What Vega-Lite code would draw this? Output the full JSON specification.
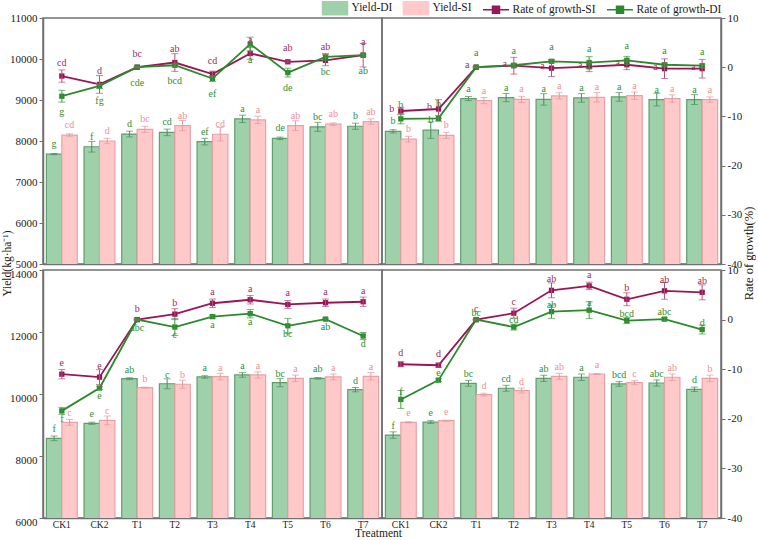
{
  "$schema": "https://vega.github.io/schema/vega-lite/v6.json",
  "background": "white",
  "padding": {"left": 0, "top": 0, "right": 0, "bottom": 0},
  "datasets": {
    "bars": [
      {"p":"A","t":"CK1","s":"Yield-DI","v":7680,"e":15,"g":"g"},
      {"p":"A","t":"CK2","s":"Yield-DI","v":7860,"e":130,"g":"f"},
      {"p":"A","t":"T1","s":"Yield-DI","v":8170,"e":70,"g":"d"},
      {"p":"A","t":"T2","s":"Yield-DI","v":8210,"e":80,"g":"cd"},
      {"p":"A","t":"T3","s":"Yield-DI","v":7985,"e":80,"g":"ef"},
      {"p":"A","t":"T4","s":"Yield-DI","v":8540,"e":90,"g":"a"},
      {"p":"A","t":"T5","s":"Yield-DI","v":8065,"e":30,"g":"de"},
      {"p":"A","t":"T6","s":"Yield-DI","v":8345,"e":110,"g":"bc"},
      {"p":"A","t":"T7","s":"Yield-DI","v":8360,"e":75,"g":"b"},
      {"p":"A","t":"CK1","s":"Yield-SI","v":8145,"e":30,"g":"cd"},
      {"p":"A","t":"CK2","s":"Yield-SI","v":8000,"e":65,"g":"d"},
      {"p":"A","t":"T1","s":"Yield-SI","v":8285,"e":75,"g":"bc"},
      {"p":"A","t":"T2","s":"Yield-SI","v":8375,"e":125,"g":"ab"},
      {"p":"A","t":"T3","s":"Yield-SI","v":8165,"e":165,"g":"cd"},
      {"p":"A","t":"T4","s":"Yield-SI","v":8515,"e":90,"g":"a"},
      {"p":"A","t":"T5","s":"Yield-SI","v":8375,"e":120,"g":"ab"},
      {"p":"A","t":"T6","s":"Yield-SI","v":8410,"e":30,"g":"ab"},
      {"p":"A","t":"T7","s":"Yield-SI","v":8475,"e":65,"g":"ab"},
      {"p":"B","t":"CK1","s":"Yield-DI","v":8235,"e":40,"g":"b"},
      {"p":"B","t":"CK2","s":"Yield-DI","v":8265,"e":200,"g":"b"},
      {"p":"B","t":"T1","s":"Yield-DI","v":9035,"e":50,"g":"a"},
      {"p":"B","t":"T2","s":"Yield-DI","v":9060,"e":100,"g":"a"},
      {"p":"B","t":"T3","s":"Yield-DI","v":9015,"e":140,"g":"a"},
      {"p":"B","t":"T4","s":"Yield-DI","v":9050,"e":105,"g":"a"},
      {"p":"B","t":"T5","s":"Yield-DI","v":9075,"e":105,"g":"a"},
      {"p":"B","t":"T6","s":"Yield-DI","v":9010,"e":155,"g":"a"},
      {"p":"B","t":"T7","s":"Yield-DI","v":9010,"e":120,"g":"a"},
      {"p":"B","t":"CK1","s":"Yield-SI","v":8045,"e":70,"g":"b"},
      {"p":"B","t":"CK2","s":"Yield-SI","v":8135,"e":75,"g":"b"},
      {"p":"B","t":"T1","s":"Yield-SI","v":8985,"e":75,"g":"a"},
      {"p":"B","t":"T2","s":"Yield-SI","v":9015,"e":75,"g":"a"},
      {"p":"B","t":"T3","s":"Yield-SI","v":9100,"e":75,"g":"a"},
      {"p":"B","t":"T4","s":"Yield-SI","v":9065,"e":115,"g":"a"},
      {"p":"B","t":"T5","s":"Yield-SI","v":9105,"e":90,"g":"a"},
      {"p":"B","t":"T6","s":"Yield-SI","v":9035,"e":90,"g":"a"},
      {"p":"B","t":"T7","s":"Yield-SI","v":9010,"e":65,"g":"a"},
      {"p":"C","t":"CK1","s":"Yield-DI","v":8570,"e":75,"g":"f"},
      {"p":"C","t":"CK2","s":"Yield-DI","v":9055,"e":35,"g":"e"},
      {"p":"C","t":"T1","s":"Yield-DI","v":10495,"e":30,"g":"ab"},
      {"p":"C","t":"T2","s":"Yield-DI","v":10330,"e":160,"g":"c"},
      {"p":"C","t":"T3","s":"Yield-DI","v":10550,"e":40,"g":"a"},
      {"p":"C","t":"T4","s":"Yield-DI","v":10615,"e":75,"g":"a"},
      {"p":"C","t":"T5","s":"Yield-DI","v":10365,"e":130,"g":"bc"},
      {"p":"C","t":"T6","s":"Yield-DI","v":10505,"e":25,"g":"ab"},
      {"p":"C","t":"T7","s":"Yield-DI","v":10140,"e":70,"g":"d"},
      {"p":"C","t":"CK1","s":"Yield-SI","v":9085,"e":95,"g":"c"},
      {"p":"C","t":"CK2","s":"Yield-SI","v":9150,"e":140,"g":"c"},
      {"p":"C","t":"T1","s":"Yield-SI","v":10205,"e":15,"g":"b"},
      {"p":"C","t":"T2","s":"Yield-SI","v":10315,"e":130,"g":"b"},
      {"p":"C","t":"T3","s":"Yield-SI","v":10560,"e":105,"g":"a"},
      {"p":"C","t":"T4","s":"Yield-SI","v":10615,"e":100,"g":"a"},
      {"p":"C","t":"T5","s":"Yield-SI","v":10505,"e":105,"g":"a"},
      {"p":"C","t":"T6","s":"Yield-SI","v":10550,"e":95,"g":"a"},
      {"p":"C","t":"T7","s":"Yield-SI","v":10570,"e":120,"g":"a"},
      {"p":"D","t":"CK1","s":"Yield-DI","v":8675,"e":105,"g":"f"},
      {"p":"D","t":"CK2","s":"Yield-DI","v":9095,"e":45,"g":"e"},
      {"p":"D","t":"T1","s":"Yield-DI","v":10345,"e":95,"g":"bc"},
      {"p":"D","t":"T2","s":"Yield-DI","v":10185,"e":95,"g":"cd"},
      {"p":"D","t":"T3","s":"Yield-DI","v":10505,"e":100,"g":"ab"},
      {"p":"D","t":"T4","s":"Yield-DI","v":10540,"e":105,"g":"a"},
      {"p":"D","t":"T5","s":"Yield-DI","v":10325,"e":75,"g":"bcd"},
      {"p":"D","t":"T6","s":"Yield-DI","v":10355,"e":100,"g":"abc"},
      {"p":"D","t":"T7","s":"Yield-DI","v":10150,"e":70,"g":"d"},
      {"p":"D","t":"CK1","s":"Yield-SI","v":9085,"e":20,"g":"e"},
      {"p":"D","t":"CK2","s":"Yield-SI","v":9140,"e":15,"g":"e"},
      {"p":"D","t":"T1","s":"Yield-SI","v":9980,"e":45,"g":"d"},
      {"p":"D","t":"T2","s":"Yield-SI","v":10110,"e":80,"g":"d"},
      {"p":"D","t":"T3","s":"Yield-SI","v":10570,"e":95,"g":"ab"},
      {"p":"D","t":"T4","s":"Yield-SI","v":10645,"e":15,"g":"a"},
      {"p":"D","t":"T5","s":"Yield-SI","v":10365,"e":65,"g":"c"},
      {"p":"D","t":"T6","s":"Yield-SI","v":10540,"e":105,"g":"ab"},
      {"p":"D","t":"T7","s":"Yield-SI","v":10505,"e":105,"g":"b"}
    ],
    "rate": [
      {"p":"A","t":"CK1","s":"Rate of growth-SI","v":-1.8,"e":1.25,"g":"cd"},
      {"p":"A","t":"CK2","s":"Rate of growth-SI","v":-3.5,"e":1.8,"g":"d"},
      {"p":"A","t":"T1","s":"Rate of growth-SI","v":0,"e":0.1,"g":"bc"},
      {"p":"A","t":"T2","s":"Rate of growth-SI","v":0.95,"e":1.8,"g":"ab"},
      {"p":"A","t":"T3","s":"Rate of growth-SI","v":-1.4,"e":0.6,"g":"cd"},
      {"p":"A","t":"T4","s":"Rate of growth-SI","v":2.8,"e":1.2,"g":"a"},
      {"p":"A","t":"T5","s":"Rate of growth-SI","v":1.1,"e":0.2,"g":"ab"},
      {"p":"A","t":"T6","s":"Rate of growth-SI","v":1.4,"e":1.1,"g":"ab"},
      {"p":"A","t":"T7","s":"Rate of growth-SI","v":2.45,"e":2.4,"g":"a"},
      {"p":"A","t":"CK1","s":"Rate of growth-DI","v":-5.9,"e":1.2,"g":"g"},
      {"p":"A","t":"CK2","s":"Rate of growth-DI","v":-3.8,"e":0.5,"g":"fg"},
      {"p":"A","t":"T1","s":"Rate of growth-DI","v":0,"e":0.1,"g":"cde"},
      {"p":"A","t":"T2","s":"Rate of growth-DI","v":0.4,"e":0.3,"g":"bcd"},
      {"p":"A","t":"T3","s":"Rate of growth-DI","v":-2.3,"e":0.6,"g":"ef"},
      {"p":"A","t":"T4","s":"Rate of growth-DI","v":4.7,"e":1.4,"g":"a"},
      {"p":"A","t":"T5","s":"Rate of growth-DI","v":-1.1,"e":0.9,"g":"de"},
      {"p":"A","t":"T6","s":"Rate of growth-DI","v":2.1,"e":0.7,"g":"bc"},
      {"p":"A","t":"T7","s":"Rate of growth-DI","v":2.45,"e":0.2,"g":"ab"},
      {"p":"B","t":"CK1","s":"Rate of growth-SI","v":-8.9,"e":0.75,"g":"b"},
      {"p":"B","t":"CK2","s":"Rate of growth-SI","v":-8.5,"e":1.9,"g":"b"},
      {"p":"B","t":"T1","s":"Rate of growth-SI","v":0,"e":0.1,"g":"a"},
      {"p":"B","t":"T2","s":"Rate of growth-SI","v":0.3,"e":1.7,"g":"a"},
      {"p":"B","t":"T3","s":"Rate of growth-SI","v":-0.2,"e":1.7,"g":"a"},
      {"p":"B","t":"T4","s":"Rate of growth-SI","v":0.1,"e":1.0,"g":"a"},
      {"p":"B","t":"T5","s":"Rate of growth-SI","v":0.5,"e":1.0,"g":"a"},
      {"p":"B","t":"T6","s":"Rate of growth-SI","v":-0.3,"e":2.0,"g":"a"},
      {"p":"B","t":"T7","s":"Rate of growth-SI","v":-0.3,"e":1.9,"g":"a"},
      {"p":"B","t":"CK1","s":"Rate of growth-DI","v":-10.5,"e":1.0,"g":"b"},
      {"p":"B","t":"CK2","s":"Rate of growth-DI","v":-10.4,"e":0.6,"g":"b"},
      {"p":"B","t":"T1","s":"Rate of growth-DI","v":0,"e":0.1,"g":"a"},
      {"p":"B","t":"T2","s":"Rate of growth-DI","v":0.4,"e":0.3,"g":"a"},
      {"p":"B","t":"T3","s":"Rate of growth-DI","v":1.2,"e":0.3,"g":"a"},
      {"p":"B","t":"T4","s":"Rate of growth-DI","v":0.95,"e":1.2,"g":"a"},
      {"p":"B","t":"T5","s":"Rate of growth-DI","v":1.4,"e":0.8,"g":"a"},
      {"p":"B","t":"T6","s":"Rate of growth-DI","v":0.5,"e":0.3,"g":"a"},
      {"p":"B","t":"T7","s":"Rate of growth-DI","v":0.3,"e":0.3,"g":"a"},
      {"p":"C","t":"CK1","s":"Rate of growth-SI","v":-11.0,"e":0.95,"g":"e"},
      {"p":"C","t":"CK2","s":"Rate of growth-SI","v":-11.6,"e":1.5,"g":"e"},
      {"p":"C","t":"T1","s":"Rate of growth-SI","v":0,"e":0.1,"g":"b"},
      {"p":"C","t":"T2","s":"Rate of growth-SI","v":1.1,"e":1.1,"g":"b"},
      {"p":"C","t":"T3","s":"Rate of growth-SI","v":3.3,"e":0.85,"g":"a"},
      {"p":"C","t":"T4","s":"Rate of growth-SI","v":4.0,"e":0.85,"g":"a"},
      {"p":"C","t":"T5","s":"Rate of growth-SI","v":3.05,"e":0.8,"g":"a"},
      {"p":"C","t":"T6","s":"Rate of growth-SI","v":3.4,"e":0.75,"g":"a"},
      {"p":"C","t":"T7","s":"Rate of growth-SI","v":3.6,"e":0.95,"g":"a"},
      {"p":"C","t":"CK1","s":"Rate of growth-DI","v":-18.4,"e":0.7,"g":"f"},
      {"p":"C","t":"CK2","s":"Rate of growth-DI","v":-13.8,"e":0.3,"g":"e"},
      {"p":"C","t":"T1","s":"Rate of growth-DI","v":0,"e":0.1,"g":"abc"},
      {"p":"C","t":"T2","s":"Rate of growth-DI","v":-1.5,"e":1.7,"g":"c"},
      {"p":"C","t":"T3","s":"Rate of growth-DI","v":0.6,"e":0.3,"g":"a"},
      {"p":"C","t":"T4","s":"Rate of growth-DI","v":1.2,"e":0.85,"g":"a"},
      {"p":"C","t":"T5","s":"Rate of growth-DI","v":-1.25,"e":1.5,"g":"bc"},
      {"p":"C","t":"T6","s":"Rate of growth-DI","v":0.1,"e":0.2,"g":"ab"},
      {"p":"C","t":"T7","s":"Rate of growth-DI","v":-3.3,"e":0.7,"g":"d"},
      {"p":"D","t":"CK1","s":"Rate of growth-SI","v":-9.0,"e":0.5,"g":"d"},
      {"p":"D","t":"CK2","s":"Rate of growth-SI","v":-9.2,"e":0.4,"g":"d"},
      {"p":"D","t":"T1","s":"Rate of growth-SI","v":0,"e":0.1,"g":"c"},
      {"p":"D","t":"T2","s":"Rate of growth-SI","v":1.3,"e":1.0,"g":"c"},
      {"p":"D","t":"T3","s":"Rate of growth-SI","v":5.9,"e":1.5,"g":"ab"},
      {"p":"D","t":"T4","s":"Rate of growth-SI","v":6.8,"e":0.75,"g":"a"},
      {"p":"D","t":"T5","s":"Rate of growth-SI","v":4.1,"e":1.3,"g":"b"},
      {"p":"D","t":"T6","s":"Rate of growth-SI","v":5.8,"e":1.7,"g":"ab"},
      {"p":"D","t":"T7","s":"Rate of growth-SI","v":5.5,"e":1.5,"g":"ab"},
      {"p":"D","t":"CK1","s":"Rate of growth-DI","v":-16.1,"e":1.8,"g":"f"},
      {"p":"D","t":"CK2","s":"Rate of growth-DI","v":-12.2,"e":0.3,"g":"e"},
      {"p":"D","t":"T1","s":"Rate of growth-DI","v":0,"e":0.1,"g":"bc"},
      {"p":"D","t":"T2","s":"Rate of growth-DI","v":-1.5,"e":0.6,"g":"cd"},
      {"p":"D","t":"T3","s":"Rate of growth-DI","v":1.6,"e":1.35,"g":"ab"},
      {"p":"D","t":"T4","s":"Rate of growth-DI","v":1.9,"e":1.7,"g":"a"},
      {"p":"D","t":"T5","s":"Rate of growth-DI","v":-0.2,"e":0.6,"g":"bcd"},
      {"p":"D","t":"T6","s":"Rate of growth-DI","v":0.1,"e":0.3,"g":"abc"},
      {"p":"D","t":"T7","s":"Rate of growth-DI","v":-2.0,"e":0.9,"g":"d"}
    ]
  },
  "columns": 2,
  "spacing": {"row": 6, "column": 0},
  "bounds": "flush",
  "align": "each",
  "concat": [
    {
      "width": 339, "height": 246,
      "encoding": {"x": {"field": "t", "type": "nominal", "scale": {"domain": ["CK1","CK2","T1","T2","T3","T4","T5","T6","T7"], "paddingInner": 0.18, "paddingOuter": 0.09}, "axis": {"labels": false, "title": null}}},
      "layer": [
        {
          "data": {"name": "bars"},
          "transform": [{"filter": "datum.p == 'A'"}],
          "encoding": {"y": {"field": "v", "type": "quantitative", "scale": {"domain": [5000, 11000], "nice": false, "zero": false}, "axis": {"values": [5000,6000,7000,8000,9000,10000,11000], "format": "d", "title": "Yield(kg·ha⁻¹)", "titleFontSize": 11.5, "titleAngle": 270, "titleX": -31, "titleY": 245, "titleAlign": "center", "titleBaseline": "bottom"}}},
          "layer": [
            {"mark": {"type": "bar", "strokeWidth": 1.2, "clip": true},
             "encoding": {
               "xOffset": {"field": "s", "scale": {"domain": ["Yield-DI","Yield-SI"]}},
               "color": {"field": "s", "type": "nominal",
                 "scale": {"domain": ["Yield-DI","Yield-SI","Rate of growth-SI","Rate of growth-DI"], "range": ["#9ed0aa","#ffc9ca","#9b1556","#2b8a2b"]},
                 "legend": {"orient": "none", "legendX": 284, "legendY": -18, "direction": "horizontal", "title": null, "symbolSize": 196, "labelOffset": 8.5, "columnPadding": 7, "padding": 0, "labelFontSize": 11.5,
                   "encode": {"symbols": {"update": {
                     "shape": {"signal": "indexof(['Yield-DI','Yield-SI'], datum.value) >= 0 ? 'M-1.79,-0.93H1.79V0.93H-1.79Z' : 'M-1.86,0H1.86M-0.5,-0.5H0.5V0.5H-0.5Z'"},
                     "fill": {"signal": "datum.value == 'Yield-DI' ? '#9ed0aa' : datum.value == 'Yield-SI' ? '#ffc9ca' : datum.value == 'Rate of growth-SI' ? '#9b1556' : '#2b8a2b'"},
                     "stroke": {"signal": "datum.value == 'Yield-DI' ? '#5f9f6d' : datum.value == 'Yield-SI' ? '#e7a2a6' : datum.value == 'Rate of growth-SI' ? '#9b1556' : '#2b8a2b'"},
                     "strokeWidth": {"value": 1.5},
                     "opacity": {"value": 1}}}}}},
               "stroke": {"field": "s", "type": "nominal", "scale": {"domain": ["Yield-DI","Yield-SI"], "range": ["#5f9f6d","#e7a2a6"]}, "legend": null}}},
            {"transform": [{"filter": "datum.s == 'Yield-DI'"}],
             "mark": {"type": "errorbar", "ticks": {"size": 7}, "color": "#4e8f5b", "thickness": 1},
             "encoding": {"xOffset": {"field": "s", "scale": {"domain": ["Yield-DI","Yield-SI"]}}, "yError": {"field": "e"}}},
            {"transform": [{"filter": "datum.s == 'Yield-SI'"}],
             "mark": {"type": "errorbar", "ticks": {"size": 7}, "color": "#e49aa0", "thickness": 1},
             "encoding": {"xOffset": {"field": "s", "scale": {"domain": ["Yield-DI","Yield-SI"]}}, "yError": {"field": "e"}}},
            {"transform": [{"filter": "datum.s == 'Yield-DI'"}],
             "mark": {"type": "text", "dy": -10, "fontSize": 10, "color": "#2f8f3a"},
             "encoding": {"xOffset": {"field": "s", "scale": {"domain": ["Yield-DI","Yield-SI"]}}, "text": {"field": "g"}}},
            {"transform": [{"filter": "datum.s == 'Yield-SI'"}],
             "mark": {"type": "text", "dy": -10, "fontSize": 10, "color": "#f08e96"},
             "encoding": {"xOffset": {"field": "s", "scale": {"domain": ["Yield-DI","Yield-SI"]}}, "text": {"field": "g"}}},
            {"data": {"values": [{}]},
             "mark": {"type": "text", "text": "A", "fontWeight": "bold", "fontSize": 14, "color": "#111"},
             "encoding": {"x": {"datum": "CK1"}, "y": {"datum": 10700}}}
          ]
        },
        {
          "data": {"name": "rate"},
          "transform": [{"filter": "datum.p == 'A'"}],
          "encoding": {"y": {"field": "v", "type": "quantitative", "scale": {"domain": [-40, 10], "nice": false, "zero": false}, "axis": null}},
          "layer": [
            {"mark": {"type": "line", "strokeWidth": 1.8, "point": {"shape": "square", "size": 28, "filled": true}},
             "encoding": {"color": {"field": "s", "type": "nominal"}}},
            {"transform": [{"filter": "datum.s == 'Rate of growth-SI'"}],
             "mark": {"type": "errorbar", "ticks": {"size": 7}, "color": "#b0507c", "thickness": 1},
             "encoding": {"yError": {"field": "e"}}},
            {"transform": [{"filter": "datum.s == 'Rate of growth-DI'"}],
             "mark": {"type": "errorbar", "ticks": {"size": 7}, "color": "#3f9a3f", "thickness": 1},
             "encoding": {"yError": {"field": "e"}}},
            {"transform": [{"filter": "datum.s == 'Rate of growth-SI'"}],
             "mark": {"type": "text", "dy": -13.5, "fontSize": 10, "color": "#9e2a62"},
             "encoding": {"text": {"field": "g"}}},
            {"transform": [{"filter": "datum.s == 'Rate of growth-DI'"}],
             "mark": {"type": "text", "dy": 15.5, "fontSize": 10, "color": "#2f8f2f"},
             "encoding": {"text": {"field": "g"}}}
          ]
        }
      ],
      "resolve": {"scale": {"y": "independent"}}
    },
    {
      "width": 339, "height": 246,
      "encoding": {"x": {"field": "t", "type": "nominal", "scale": {"domain": ["CK1","CK2","T1","T2","T3","T4","T5","T6","T7"], "paddingInner": 0.18, "paddingOuter": 0.09}, "axis": {"labels": false, "title": null}}},
      "layer": [
        {
          "data": {"name": "bars"},
          "transform": [{"filter": "datum.p == 'B'"}],
          "encoding": {"y": {"field": "v", "type": "quantitative", "scale": {"domain": [5000, 11000], "nice": false, "zero": false}, "axis": null}},
          "layer": [
            {"mark": {"type": "bar", "strokeWidth": 1.2, "clip": true},
             "encoding": {
               "xOffset": {"field": "s", "scale": {"domain": ["Yield-DI","Yield-SI"]}},
               "color": {"field": "s", "type": "nominal"},
               "stroke": {"field": "s", "type": "nominal", "legend": null}}},
            {"transform": [{"filter": "datum.s == 'Yield-DI'"}],
             "mark": {"type": "errorbar", "ticks": {"size": 7}, "color": "#4e8f5b", "thickness": 1},
             "encoding": {"xOffset": {"field": "s", "scale": {"domain": ["Yield-DI","Yield-SI"]}}, "yError": {"field": "e"}}},
            {"transform": [{"filter": "datum.s == 'Yield-SI'"}],
             "mark": {"type": "errorbar", "ticks": {"size": 7}, "color": "#e49aa0", "thickness": 1},
             "encoding": {"xOffset": {"field": "s", "scale": {"domain": ["Yield-DI","Yield-SI"]}}, "yError": {"field": "e"}}},
            {"transform": [{"filter": "datum.s == 'Yield-DI'"}],
             "mark": {"type": "text", "dy": -10, "fontSize": 10, "color": "#2f8f3a"},
             "encoding": {"xOffset": {"field": "s", "scale": {"domain": ["Yield-DI","Yield-SI"]}}, "text": {"field": "g"}}},
            {"transform": [{"filter": "datum.s == 'Yield-SI'"}],
             "mark": {"type": "text", "dy": -10, "fontSize": 10, "color": "#f08e96"},
             "encoding": {"xOffset": {"field": "s", "scale": {"domain": ["Yield-DI","Yield-SI"]}}, "text": {"field": "g"}}},
            {"data": {"values": [{}]},
             "mark": {"type": "text", "text": "B", "fontWeight": "bold", "fontSize": 14, "color": "#111"},
             "encoding": {"x": {"datum": "CK1"}, "y": {"datum": 10650}}}
          ]
        },
        {
          "data": {"name": "rate"},
          "transform": [{"filter": "datum.p == 'B'"}],
          "encoding": {"y": {"field": "v", "type": "quantitative", "scale": {"domain": [-40, 10], "nice": false, "zero": false}, "axis": {"orient": "right", "values": [-40,-30,-20,-10,0,10], "labelExpr": "'' + datum.value", "title": "Rate of growth(%)", "titleAngle": 270, "titleX": 34, "titleY": 235, "titleAlign": "center", "titleBaseline": "bottom"}}},
          "layer": [
            {"mark": {"type": "line", "strokeWidth": 1.8, "point": {"shape": "square", "size": 28, "filled": true}},
             "encoding": {"color": {"field": "s", "type": "nominal"}}},
            {"transform": [{"filter": "datum.s == 'Rate of growth-SI'"}],
             "mark": {"type": "errorbar", "ticks": {"size": 7}, "color": "#b0507c", "thickness": 1},
             "encoding": {"yError": {"field": "e"}}},
            {"transform": [{"filter": "datum.s == 'Rate of growth-DI'"}],
             "mark": {"type": "errorbar", "ticks": {"size": 7}, "color": "#3f9a3f", "thickness": 1},
             "encoding": {"yError": {"field": "e"}}},
            {"transform": [{"filter": "datum.s == 'Rate of growth-SI'"}],
             "mark": {"type": "text", "dx": -9, "dy": -2, "fontSize": 10, "color": "#9e2a62"},
             "encoding": {"text": {"field": "g"}}},
            {"transform": [{"filter": "datum.s == 'Rate of growth-DI'"}],
             "mark": {"type": "text", "dy": -14, "fontSize": 10, "color": "#2f8f2f"},
             "encoding": {"text": {"field": "g"}}}
          ]
        }
      ],
      "resolve": {"scale": {"y": "independent"}}
    },
    {
      "width": 339, "height": 248,
      "encoding": {"x": {"field": "t", "type": "nominal", "scale": {"domain": ["CK1","CK2","T1","T2","T3","T4","T5","T6","T7"], "paddingInner": 0.18, "paddingOuter": 0.09}, "axis": {"labels": true, "title": "Treatment", "titleX": 335, "titleAlign": "center", "titlePadding": -1, "titleFontSize": 11.5}}},
      "layer": [
        {
          "data": {"name": "bars"},
          "transform": [{"filter": "datum.p == 'C'"}],
          "encoding": {"y": {"field": "v", "type": "quantitative", "scale": {"domain": [6000, 14000], "nice": false, "zero": false}, "axis": {"values": [6000,8000,10000,12000,14000], "format": "d", "title": null, "labelOffset": 4}}},
          "layer": [
            {"mark": {"type": "bar", "strokeWidth": 1.2, "clip": true},
             "encoding": {
               "xOffset": {"field": "s", "scale": {"domain": ["Yield-DI","Yield-SI"]}},
               "color": {"field": "s", "type": "nominal"},
               "stroke": {"field": "s", "type": "nominal", "legend": null}}},
            {"transform": [{"filter": "datum.s == 'Yield-DI'"}],
             "mark": {"type": "errorbar", "ticks": {"size": 7}, "color": "#4e8f5b", "thickness": 1},
             "encoding": {"xOffset": {"field": "s", "scale": {"domain": ["Yield-DI","Yield-SI"]}}, "yError": {"field": "e"}}},
            {"transform": [{"filter": "datum.s == 'Yield-SI'"}],
             "mark": {"type": "errorbar", "ticks": {"size": 7}, "color": "#e49aa0", "thickness": 1},
             "encoding": {"xOffset": {"field": "s", "scale": {"domain": ["Yield-DI","Yield-SI"]}}, "yError": {"field": "e"}}},
            {"transform": [{"filter": "datum.s == 'Yield-DI'"}],
             "mark": {"type": "text", "dy": -9, "fontSize": 10, "color": "#2f8f3a"},
             "encoding": {"xOffset": {"field": "s", "scale": {"domain": ["Yield-DI","Yield-SI"]}}, "text": {"field": "g"}}},
            {"transform": [{"filter": "datum.s == 'Yield-SI'"}],
             "mark": {"type": "text", "dy": -9, "fontSize": 10, "color": "#f08e96"},
             "encoding": {"xOffset": {"field": "s", "scale": {"domain": ["Yield-DI","Yield-SI"]}}, "text": {"field": "g"}}},
            {"data": {"values": [{}]},
             "mark": {"type": "text", "text": "C", "fontWeight": "bold", "fontSize": 14, "color": "#111"},
             "encoding": {"x": {"datum": "CK1"}, "y": {"datum": 13600}}}
          ]
        },
        {
          "data": {"name": "rate"},
          "transform": [{"filter": "datum.p == 'C'"}],
          "encoding": {"y": {"field": "v", "type": "quantitative", "scale": {"domain": [-40, 10], "nice": false, "zero": false}, "axis": null}},
          "layer": [
            {"mark": {"type": "line", "strokeWidth": 1.8, "point": {"shape": "square", "size": 28, "filled": true}},
             "encoding": {"color": {"field": "s", "type": "nominal"}}},
            {"transform": [{"filter": "datum.s == 'Rate of growth-SI'"}],
             "mark": {"type": "errorbar", "ticks": {"size": 7}, "color": "#b0507c", "thickness": 1},
             "encoding": {"yError": {"field": "e"}}},
            {"transform": [{"filter": "datum.s == 'Rate of growth-DI'"}],
             "mark": {"type": "errorbar", "ticks": {"size": 7}, "color": "#3f9a3f", "thickness": 1},
             "encoding": {"yError": {"field": "e"}}},
            {"transform": [{"filter": "datum.s == 'Rate of growth-SI'"}],
             "mark": {"type": "text", "dy": -11, "fontSize": 10, "color": "#9e2a62"},
             "encoding": {"text": {"field": "g"}}},
            {"transform": [{"filter": "datum.s == 'Rate of growth-DI'"}],
             "mark": {"type": "text", "dy": 8, "fontSize": 10, "color": "#2f8f2f"},
             "encoding": {"text": {"field": "g"}}}
          ]
        }
      ],
      "resolve": {"scale": {"y": "independent"}}
    },
    {
      "width": 339, "height": 248,
      "encoding": {"x": {"field": "t", "type": "nominal", "scale": {"domain": ["CK1","CK2","T1","T2","T3","T4","T5","T6","T7"], "paddingInner": 0.18, "paddingOuter": 0.09}, "axis": {"labels": true, "title": null}}},
      "layer": [
        {
          "data": {"name": "bars"},
          "transform": [{"filter": "datum.p == 'D'"}],
          "encoding": {"y": {"field": "v", "type": "quantitative", "scale": {"domain": [6000, 14000], "nice": false, "zero": false}, "axis": null}},
          "layer": [
            {"mark": {"type": "bar", "strokeWidth": 1.2, "clip": true},
             "encoding": {
               "xOffset": {"field": "s", "scale": {"domain": ["Yield-DI","Yield-SI"]}},
               "color": {"field": "s", "type": "nominal"},
               "stroke": {"field": "s", "type": "nominal", "legend": null}}},
            {"transform": [{"filter": "datum.s == 'Yield-DI'"}],
             "mark": {"type": "errorbar", "ticks": {"size": 7}, "color": "#4e8f5b", "thickness": 1},
             "encoding": {"xOffset": {"field": "s", "scale": {"domain": ["Yield-DI","Yield-SI"]}}, "yError": {"field": "e"}}},
            {"transform": [{"filter": "datum.s == 'Yield-SI'"}],
             "mark": {"type": "errorbar", "ticks": {"size": 7}, "color": "#e49aa0", "thickness": 1},
             "encoding": {"xOffset": {"field": "s", "scale": {"domain": ["Yield-DI","Yield-SI"]}}, "yError": {"field": "e"}}},
            {"transform": [{"filter": "datum.s == 'Yield-DI'"}],
             "mark": {"type": "text", "dy": -9, "fontSize": 10, "color": "#2f8f3a"},
             "encoding": {"xOffset": {"field": "s", "scale": {"domain": ["Yield-DI","Yield-SI"]}}, "text": {"field": "g"}}},
            {"transform": [{"filter": "datum.s == 'Yield-SI'"}],
             "mark": {"type": "text", "dy": -9, "fontSize": 10, "color": "#f08e96"},
             "encoding": {"xOffset": {"field": "s", "scale": {"domain": ["Yield-DI","Yield-SI"]}}, "text": {"field": "g"}}},
            {"data": {"values": [{}]},
             "mark": {"type": "text", "text": "D", "fontWeight": "bold", "fontSize": 14, "color": "#111"},
             "encoding": {"x": {"datum": "CK1"}, "y": {"datum": 13600}}}
          ]
        },
        {
          "data": {"name": "rate"},
          "transform": [{"filter": "datum.p == 'D'"}],
          "encoding": {"y": {"field": "v", "type": "quantitative", "scale": {"domain": [-40, 10], "nice": false, "zero": false}, "axis": {"orient": "right", "values": [-40,-30,-20,-10,0,10], "labelExpr": "'' + datum.value", "title": null}}},
          "layer": [
            {"mark": {"type": "line", "strokeWidth": 1.8, "point": {"shape": "square", "size": 28, "filled": true}},
             "encoding": {"color": {"field": "s", "type": "nominal"}}},
            {"transform": [{"filter": "datum.s == 'Rate of growth-SI'"}],
             "mark": {"type": "errorbar", "ticks": {"size": 7}, "color": "#b0507c", "thickness": 1},
             "encoding": {"yError": {"field": "e"}}},
            {"transform": [{"filter": "datum.s == 'Rate of growth-DI'"}],
             "mark": {"type": "errorbar", "ticks": {"size": 7}, "color": "#3f9a3f", "thickness": 1},
             "encoding": {"yError": {"field": "e"}}},
            {"transform": [{"filter": "datum.s == 'Rate of growth-SI'"}],
             "mark": {"type": "text", "dy": -11, "fontSize": 10, "color": "#9e2a62"},
             "encoding": {"text": {"field": "g"}}},
            {"transform": [{"filter": "datum.s == 'Rate of growth-DI'"}],
             "mark": {"type": "text", "dy": -7, "fontSize": 10, "color": "#2f8f2f"},
             "encoding": {"text": {"field": "g"}}}
          ]
        }
      ],
      "resolve": {"scale": {"y": "independent"}}
    }
  ],
  "config": {
    "font": "Liberation Serif",
    "view": {"stroke": "#707070", "strokeWidth": 1.5},
    "axis": {"labelFont": "Liberation Serif", "titleFont": "Liberation Serif", "labelFontSize": 11, "labelColor": "#1a1a1a", "titleColor": "#1a1a1a", "titleFontSize": 12.5, "titleFontWeight": "normal", "domainColor": "#707070", "domainWidth": 1.5, "tickColor": "#707070", "tickSize": 4, "labelPadding": 2, "grid": false},
    "axisX": {"labelAngle": 0, "labelFontSize": 9.5, "tickSize": -3, "labelPadding": 4},
    "legend": {"labelFont": "Liberation Serif", "labelFontSize": 11.5, "labelColor": "#1a1a1a"},
    "text": {"font": "Liberation Serif"}
  }
}
